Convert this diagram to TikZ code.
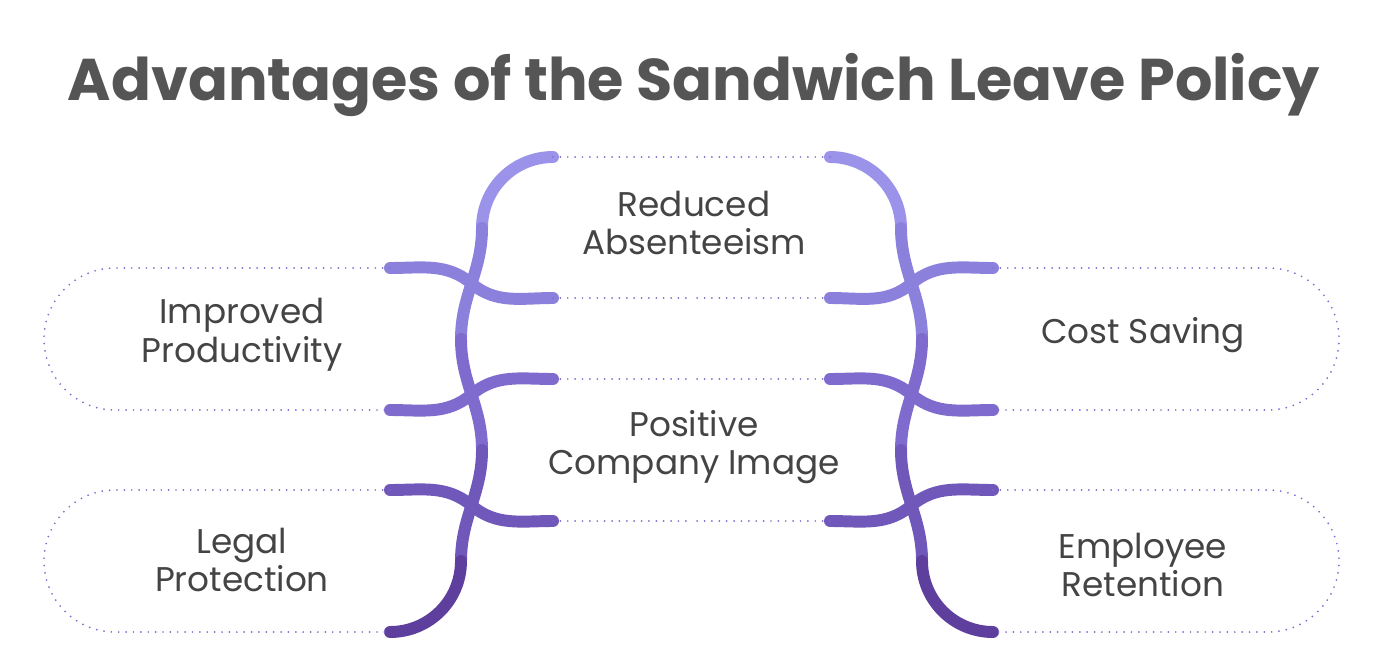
\documentclass[tikz,border=0pt]{standalone}
\usepackage{fontspec}
\setmainfont{Poppins}
\definecolor{vA}{HTML}{9A93E9}
\definecolor{vB}{HTML}{8C80DD}
\definecolor{vC}{HTML}{7E6BCD}
\definecolor{vD}{HTML}{7057BA}
\definecolor{vE}{HTML}{5E3F9E}
\definecolor{ink}{HTML}{444444}
\definecolor{headink}{HTML}{555555}
\tikzset{
  arm/.style={line width=6.8pt,line cap=round},
  rim/.style={vC,line width=1.1pt,dash pattern=on 0pt off 4.2pt,line cap=round},
  label/.style={ink,font=\fontsize{19.5}{22}\selectfont,align=center},
}
% one half of the chain, left side
\newcommand{\halfchain}{%
  \draw[arm,vA] (553,157) to[out=180,in=90] (482,228);
  \draw[arm,vB] (482,228) to[out=-90,in=90] coordinate[pos=0.5] (j1) (461,339);
  \draw[arm,vB] (j1) to[out=140,in=0] (390,268);
  \draw[arm,vB] (j1) to[out=-40,in=180] (553,298);
  \draw[arm,vC] (461,339) to[out=-90,in=90] coordinate[pos=0.5] (j2) (482,450);
  \draw[arm,vC] (j2) to[out=-140,in=0] (390,410);
  \draw[arm,vC] (j2) to[out=40,in=180] (553,379);
  \draw[arm,vD] (482,450) to[out=-90,in=90] coordinate[pos=0.5] (j3) (461,561);
  \draw[arm,vD] (j3) to[out=-40,in=180] (553,521);
  \draw[arm,vD] (j3) to[out=140,in=0] (390,490);
  \draw[arm,vE] (461,561) to[out=-90,in=0] (390,632);
  \draw[rim] (390,268) -- (115,268) arc(270:90:71) -- (390,410);
  \draw[rim] (390,490) -- (115,490) arc(270:90:71) -- (390,632);
  \draw[rim] (553,157) -- (691.5,157);
  \draw[rim] (553,298) -- (691.5,298);
  \draw[rim] (553,379) -- (691.5,379);
  \draw[rim] (553,521) -- (691.5,521);
}
\begin{document}
\begin{tikzpicture}[x=0.02cm,y=-0.02cm]
  \useasboundingbox (0,0) rectangle (1388,659);
  \node[headink,font=\fontsize{33.5}{38}\selectfont\bfseries] (title) at (694,85) {Advantages of the Sandwich Leave Policy};
  \halfchain
  \begin{scope}[xshift=1383*0.02cm,xscale=-1]
    \halfchain
  \end{scope}
  \node[label] (absent) at (694,223) {Reduced\\Absenteeism};
  \node[label] (image) at (694,447) {Positive\\Company Image};
  \node[label] (product) at (242,335) {Improved\\Productivity};
  \node[label] (legal) at (242,560) {Legal\\Protection};
  \node[label] (cost) at (1143,335) {Cost Saving};
  \node[label] (retain) at (1143,565) {Employee\\Retention};
\end{tikzpicture}
\end{document}
